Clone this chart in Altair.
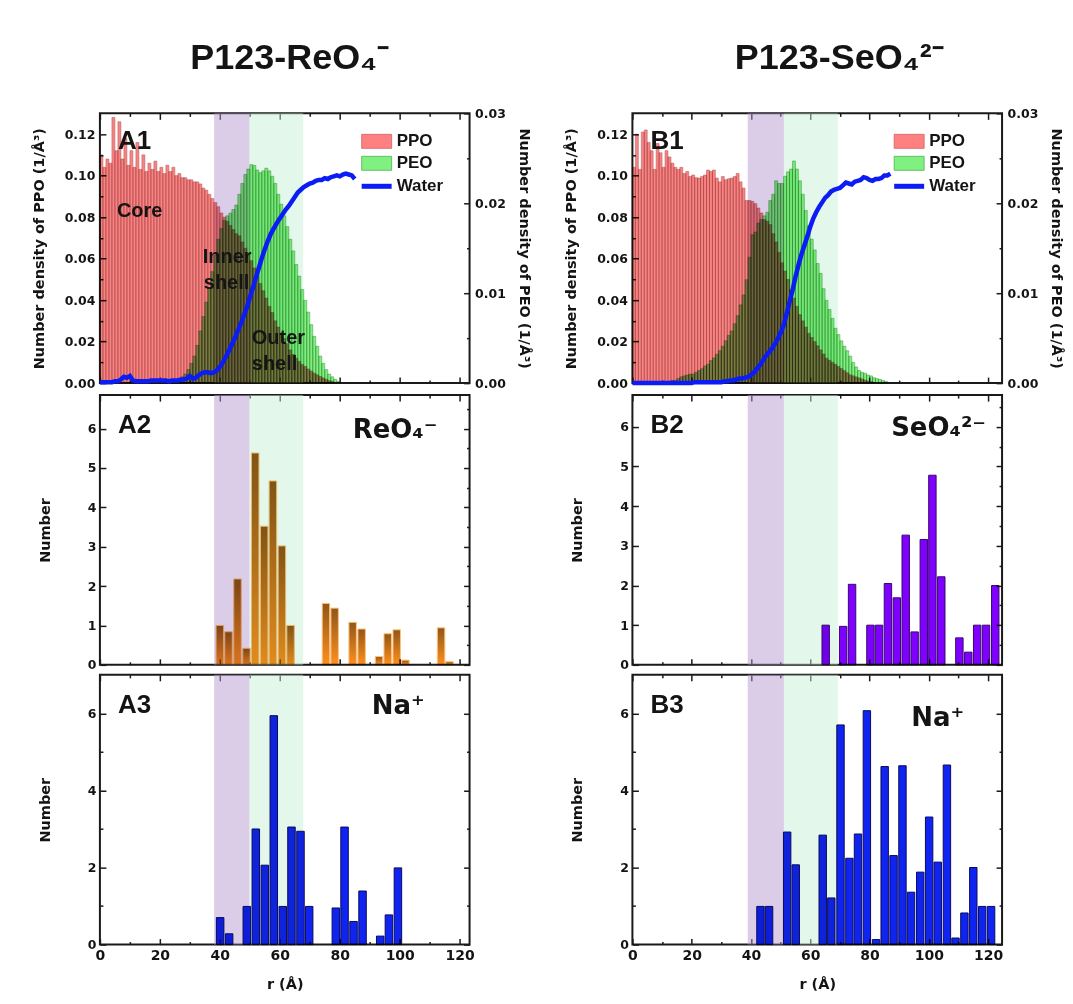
import altair as alt
import pandas as pd

ARIAL = "Liberation Sans, Arial, sans-serif"
WIDE = "DejaVu Sans, Verdana, sans-serif"
INK = "#141414"

# ------------------------------------------------------------------ data
# A1 (P123-ReO4-): number densities in 1 A bins (first bin starts at r = 0)
a1_ppo = [0.110, 0.104, 0.108, 0.106, 0.128, 0.112, 0.126, 0.108, 0.118, 0.105,
          0.112, 0.104, 0.116, 0.103, 0.110, 0.102, 0.106, 0.103, 0.107, 0.102,
          0.104, 0.101, 0.105, 0.102, 0.104, 0.100, 0.101, 0.099, 0.099, 0.098,
          0.098, 0.097, 0.097, 0.096, 0.094, 0.093, 0.091, 0.089, 0.087, 0.085,
          0.082, 0.080, 0.078, 0.076, 0.074, 0.072, 0.071, 0.068, 0.065, 0.062,
          0.059, 0.0555, 0.052, 0.048, 0.0445, 0.041, 0.037, 0.034, 0.030, 0.027,
          0.024, 0.0215, 0.019, 0.016, 0.0138, 0.012, 0.0105, 0.009, 0.008, 0.0068,
          0.0058, 0.0048, 0.004, 0.0032, 0.0025, 0.0018, 0.0012, 0.0008]
a1_peo_r0 = 24
a1_peo = [0.0002, 0.0003, 0.0005, 0.0007, 0.0010, 0.0015, 0.0022, 0.0030, 0.0042, 0.0058,
          0.0074, 0.0090, 0.0106, 0.0124, 0.0142, 0.0160, 0.0172, 0.0181, 0.0186, 0.0189,
          0.0193, 0.0198, 0.0210, 0.0222, 0.0232, 0.0238, 0.0243, 0.0242, 0.0237, 0.0234,
          0.0236, 0.0239, 0.0236, 0.0230, 0.0222, 0.0210, 0.0199, 0.0186, 0.0174, 0.0160,
          0.0147, 0.0132, 0.0119, 0.0104, 0.0092, 0.0079, 0.0065, 0.0052, 0.0041, 0.0030,
          0.0022, 0.0015, 0.0010, 0.0007, 0.0004, 0.0002]
a1_water = [0.0001, 0.0001, 0.0001, 0.0001, 0.0001, 0.0002, 0.0002, 0.0004, 0.0007, 0.0006,
            0.0008, 0.0003, 0.0002, 0.0002, 0.0002, 0.0002, 0.0002, 0.0003, 0.0003, 0.0003,
            0.0003, 0.0003, 0.0003, 0.0002, 0.0003, 0.0003, 0.0003, 0.0004, 0.0004, 0.0005,
            0.0008, 0.0005, 0.0006, 0.0009, 0.0011, 0.0012, 0.0012, 0.0011, 0.0012, 0.0014,
            0.0018, 0.0023, 0.0029, 0.0036, 0.0043, 0.0050, 0.0058, 0.0066, 0.0075, 0.0084,
            0.0095, 0.0106, 0.0117, 0.0128, 0.0139, 0.0149, 0.0158, 0.0166, 0.0172, 0.0178,
            0.0183, 0.0188, 0.0193, 0.0197, 0.0202, 0.0207, 0.0212, 0.0215, 0.0218, 0.0220,
            0.0222, 0.0223, 0.0225, 0.0226, 0.0226, 0.0228, 0.0227, 0.0229, 0.0230, 0.0231,
            0.0230, 0.0232, 0.0233, 0.0232, 0.0231, 0.0227]

# B1 (P123-SeO4 2-)
b1_ppo = [0.104, 0.120, 0.103, 0.121, 0.122, 0.116, 0.112, 0.103, 0.1155, 0.111,
          0.104, 0.112, 0.109, 0.106, 0.104, 0.103, 0.104, 0.101, 0.102, 0.0996,
          0.1003, 0.099, 0.0988, 0.0996, 0.1003, 0.1027, 0.102, 0.1027, 0.0988, 0.097,
          0.0996, 0.098, 0.0985, 0.0988, 0.0996, 0.101, 0.097, 0.094, 0.088, 0.088,
          0.0876, 0.0865, 0.0844, 0.082, 0.0788, 0.078, 0.0764, 0.072, 0.068, 0.063,
          0.058, 0.054, 0.050, 0.045, 0.041, 0.037, 0.033, 0.030, 0.027, 0.024,
          0.022, 0.020, 0.018, 0.016, 0.014, 0.012, 0.011, 0.010, 0.009, 0.008,
          0.007, 0.006, 0.005, 0.004, 0.0035, 0.003, 0.0025, 0.002, 0.0015, 0.001,
          0.0007, 0.0004]
b1_peo_r0 = 12
b1_peo = [0.0002, 0.0003, 0.0003, 0.0005, 0.0007, 0.0008, 0.0009, 0.0010, 0.0010, 0.0012,
          0.0014, 0.0016, 0.0019, 0.0021, 0.0025, 0.0028, 0.0032, 0.0036, 0.0041, 0.0047,
          0.0053, 0.0058, 0.0066, 0.0075, 0.0087, 0.0098, 0.0115, 0.0140, 0.0165, 0.0168,
          0.0178, 0.0182, 0.0186, 0.0190, 0.0203, 0.0210, 0.0225, 0.0222, 0.0222, 0.0230,
          0.0235, 0.0238, 0.0247, 0.0238, 0.0225, 0.0210, 0.0192, 0.0175, 0.0160, 0.0148,
          0.0133, 0.0122, 0.0105, 0.0092, 0.0082, 0.0072, 0.0061, 0.0054, 0.0047, 0.0041,
          0.0036, 0.0030, 0.0023, 0.0018, 0.0014, 0.0012, 0.0011, 0.0009, 0.0008, 0.0006,
          0.0005, 0.0004, 0.0003, 0.0002]
b1_water = [0.0, 0.0, 0.0, 0.0, 0.0, 0.0, 0.0, 0.0, 0.0, 0.0,
            0.0, 0.0, 0.0, 0.0, 0.0, 0.0, 0.0, 0.0, 0.0, 0.0,
            0.0, 0.0001, 0.0001, 0.0001, 0.0001, 0.0001, 0.0001, 0.0001, 0.0001, 0.0001,
            0.0001, 0.0002, 0.0002, 0.0003, 0.0003, 0.0004, 0.0005, 0.0005, 0.0006, 0.0007,
            0.0009, 0.0012, 0.0016, 0.0020, 0.0025, 0.0030, 0.0034, 0.0038, 0.0043, 0.0049,
            0.0056, 0.0064, 0.0077, 0.0090, 0.0103, 0.0118, 0.0131, 0.0143, 0.0153, 0.0163,
            0.0174, 0.0183, 0.0190, 0.0196, 0.0201, 0.0206, 0.0209, 0.0213, 0.0215, 0.0216,
            0.0217, 0.0220, 0.0223, 0.0222, 0.0221, 0.0224, 0.0225, 0.0226, 0.0229, 0.0228,
            0.0226, 0.0225, 0.0227, 0.0227, 0.0228, 0.0231, 0.0231, 0.0233]

# A2: ReO4- count per shell bin (bin centre r, number)
a2_r = [40.0, 42.9, 45.9, 48.9, 51.8, 54.8, 57.7, 60.7, 63.6, 75.4,
        78.3, 84.3, 87.3, 93.1, 96.0, 99.0, 101.9, 113.8, 116.6]
a2_n = [1.00, 0.84, 2.18, 0.42, 5.38, 3.52, 4.67, 3.02, 1.00, 1.56,
        1.44, 1.08, 0.91, 0.21, 0.79, 0.89, 0.12, 0.94, 0.08]
# A3: Na+ (ReO4- system)
a3_r = [40.1, 43.1, 49.0, 52.0, 55.0, 58.0, 61.0, 63.9, 66.9, 69.8,
        78.7, 81.6, 84.6, 87.6, 93.5, 96.4, 99.4]
a3_n = [0.70, 0.28, 0.99, 3.00, 2.06, 5.94, 0.99, 3.05, 2.94, 0.99,
        0.95, 3.05, 0.60, 1.39, 0.22, 0.77, 1.99]
# B2: SeO4 2-
b2_r = [65.2, 71.1, 74.1, 80.3, 83.2, 86.2, 89.2, 92.2, 95.2, 98.3,
        101.2, 104.2, 110.3, 113.3, 116.3, 119.3, 122.4]
b2_n = [1.00, 0.97, 2.03, 1.00, 1.00, 2.05, 1.69, 3.27, 0.83, 3.16,
        4.78, 2.22, 0.68, 0.32, 1.00, 1.00, 2.00]
# B3: Na+ (SeO4 2- system)
b3_r = [43.2, 46.1, 52.2, 55.1, 64.2, 67.1, 70.2, 73.2, 76.1, 79.1,
        82.2, 85.1, 88.1, 91.1, 94.0, 97.1, 100.1, 103.0, 106.1, 109.0,
        112.0, 115.0, 118.0, 121.0]
b3_n = [0.99, 0.99, 2.92, 2.07, 2.84, 1.21, 5.70, 2.24, 2.87, 6.07,
        0.13, 4.62, 2.31, 4.64, 1.36, 1.88, 3.31, 2.14, 4.66, 0.17,
        0.82, 2.00, 0.99, 0.99]

# inner / outer shell bands
band_kind = ["inner", "outer"]
a_band_lo = [38.1, 49.9]
a_band_hi = [49.9, 67.8]
b_band_lo = [38.9, 51.1]
b_band_hi = [51.1, 69.3]

tick_r = list(range(0, 121, 10))
ppo_ticks = [round(i * 0.01, 3) for i in range(13)]
peo_ticks = [round(i * 0.005, 4) for i in range(7)]
n2_ticks = [i * 0.5 for i in range(14)]
n3_ticks = list(range(0, 7))

# ------------------------------------------------------------------ styling
W, H = 370, 270
MAJOR, MINOR = -6, -3
BAR_W = 2.5


def tsize(test):
    return alt.ExprRef(expr=f"({test}) ? {MAJOR} : {MINOR}")


def x_axis(orient, labels=False, title=None):
    test = "datum.value % 20 === 0"
    kw = dict(orient=orient, values=tick_r, tickSize=tsize(test), domain=False,
              grid=False, labels=labels, title=title)
    if labels:
        kw.update(labelExpr=f"({test}) ? datum.label : ''", labelPadding=10,
                  labelFlush=False, labelOverlap=False, labelFontSize=14,
                  titlePadding=12)
    return alt.Axis(**kw)


def y_axis(orient, values, test, labels=False, title=None, fmt=None,
           label_pad=10, title_pad=12):
    kw = dict(orient=orient, values=values, tickSize=tsize(test), domain=False,
              grid=False, labels=labels, title=title)
    if labels:
        kw.update(labelExpr=f"({test}) ? datum.label : ''", labelPadding=label_pad,
                  labelOverlap=False, labelFlush=False)
        if fmt:
            kw["format"] = fmt
    if title:
        kw["titlePadding"] = title_pad
    return alt.Axis(**kw)


def text(t, x, y, size, font=ARIAL, align="left"):
    return alt.Chart(alt.Data(values=[{"t": t}])).mark_text(
        align=align, baseline="middle", font=font, fontSize=size,
        fontWeight="bold", color=INK
    ).encode(x=alt.value(x), y=alt.value(y), text="t:N")


def bands_layer(lo, hi, xs):
    df = pd.DataFrame({"kind": band_kind, "lo": lo, "hi": hi})
    return alt.Chart(df).mark_rect(opacity=0.5).encode(
        x=alt.X("lo:Q", scale=xs, axis=x_axis("top")),
        x2="hi:Q",
        color=alt.Color("kind:N", scale=alt.Scale(domain=band_kind,
                        range=["#b89bcf", "#c8efd6"]), legend=None),
    )


def legend_layers():
    sw = dict(x=alt.value(262), x2=alt.value(292))
    one = alt.Data(values=[{"k": 1}])
    return [
        alt.Chart(one).mark_rect(fill="#ff8080", stroke="#d06060", strokeWidth=0.8)
        .encode(y=alt.value(21), y2=alt.value(35), **sw),
        alt.Chart(one).mark_rect(fill="#80f080", stroke="#50b050", strokeWidth=0.8)
        .encode(y=alt.value(43), y2=alt.value(57), **sw),
        alt.Chart(one).mark_rule(color="#0b1cf5", strokeWidth=5)
        .encode(y=alt.value(73), **sw),
        text("PPO", 297, 28, 17), text("PEO", 297, 50, 17), text("Water", 297, 73, 17),
    ]


def density_panel(ppo, peo_r0, peo, water, lo, hi, xmax, tag, notes, head, head_x):
    xs = alt.Scale(domain=[0, xmax], nice=False, zero=False)
    ys_l = alt.Scale(domain=[0, 0.13], nice=False)
    ys_r = alt.Scale(domain=[0, 0.03], nice=False)
    ppo_df = pd.DataFrame({"r": list(range(len(ppo))), "v": ppo})
    peo_df = pd.DataFrame({"r": list(range(peo_r0, peo_r0 + len(peo))), "v": peo})
    wat_df = pd.DataFrame({"r": list(range(len(water))), "v": water})

    ppo_l = alt.Chart(ppo_df).transform_calculate(r2="datum.r + 1", zero="0").mark_rect(
        fill="#f78383", stroke="#b35858", strokeWidth=0.5, blend="multiply"
    ).encode(
        x=alt.X("r:Q", scale=xs, axis=x_axis("bottom")),
        x2="r2:Q",
        y=alt.Y("v:Q", scale=ys_l, axis=y_axis(
            "left", ppo_ticks, "round(datum.value*100) % 2 === 0", labels=True,
            title="Number density of PPO (1/Å³)", fmt=".2f", label_pad=11, title_pad=18)),
        y2="zero:Q",
    )
    peo_l = alt.Chart(peo_df).transform_calculate(r2="datum.r + 1", zero="0").mark_rect(
        fill="#80f080", stroke="#3f943f", strokeWidth=0.5, blend="multiply"
    ).encode(
        x=alt.X("r:Q", scale=xs, axis=None),
        x2="r2:Q",
        y=alt.Y("v:Q", scale=ys_r, axis=y_axis(
            "right", peo_ticks, "round(datum.value*1000) % 10 === 0", labels=True,
            title="Number density of PEO (1/Å³)", fmt=".2f", label_pad=11, title_pad=11)),
        y2="zero:Q",
    )
    wat_l = alt.Chart(wat_df).mark_line(color="#0b1cf5", strokeWidth=4.5).encode(
        x=alt.X("r:Q", scale=xs, axis=None),
        y=alt.Y("v:Q", scale=ys_r, axis=None),
    )
    layers = [bands_layer(lo, hi, xs), ppo_l, peo_l, wat_l, text(tag, 18, 28, 26)]
    layers += [text(*n) for n in notes]
    layers += legend_layers()
    layers += [text(head, head_x, -55, 36, align="center")]
    return alt.layer(*layers).resolve_scale(y="independent").resolve_axis(
        x="independent").properties(width=W, height=H)


def count_panel(r, n, lo, hi, xmax, ymax, yvals, ytest, fill, stroke, tag, ion,
                ion_xy, bottom=False):
    xs = alt.Scale(domain=[0, xmax], nice=False, zero=False)
    ys = alt.Scale(domain=[0, ymax], nice=False)
    df = pd.DataFrame({"r": r, "n": n})
    bars = alt.Chart(df).transform_calculate(
        lo=f"datum.r - {BAR_W / 2}", hi=f"datum.r + {BAR_W / 2}", zero="0"
    ).mark_rect(fill=fill, stroke=stroke, strokeWidth=1, blend="multiply").encode(
        x=alt.X("lo:Q", scale=xs, axis=x_axis("bottom", labels=bottom,
                title="r (Å)" if bottom else None)),
        x2="hi:Q",
        y=alt.Y("n:Q", scale=ys, axis=y_axis("left", yvals, ytest, labels=True,
                title="Number", fmt="d", title_pad=35)),
        y2="zero:Q",
    )
    mirror = alt.Chart(df).mark_point(opacity=0, size=1).encode(
        x=alt.X("r:Q", scale=xs, axis=None),
        y=alt.Y("n:Q", scale=ys, axis=y_axis("right", yvals, ytest)),
    )
    layers = [bands_layer(lo, hi, xs), bars, mirror, text(tag, 18, 30, 26),
              text(ion, ion_xy[0], ion_xy[1], 26, font=WIDE)]
    return alt.layer(*layers).resolve_axis(x="independent", y="independent").properties(
        width=W, height=H)


orange = {"gradient": "linear", "x1": 0, "y1": 0, "x2": 0, "y2": 1,
          "stops": [{"offset": 0, "color": "#8f5618"}, {"offset": 1, "color": "#ff8f1f"}]}

A_MAX, B_MAX = 123.3, 124.7

a1 = density_panel(a1_ppo, a1_peo_r0, a1_peo, a1_water, a_band_lo, a_band_hi, A_MAX, "A1",
                   [("Core", 17, 98, 20), ("Inner", 103, 144, 20), ("shell", 104, 170, 20),
                    ("Outer", 152, 225, 20), ("shell", 152, 251, 20)],
                   "P123-ReO₄⁻", 190)
a2 = count_panel(a2_r, a2_n, a_band_lo, a_band_hi, A_MAX, 6.85, n2_ticks,
                 "datum.value % 1 === 0", orange, "#ffc27a", "A2", "ReO₄⁻", (253, 35))
a3 = count_panel(a3_r, a3_n, a_band_lo, a_band_hi, A_MAX, 7.0, n3_ticks,
                 "datum.value % 2 === 0", "#1024f0", "#0a0a60", "A3", "Na⁺", (272, 31),
                 bottom=True)

b1 = density_panel(b1_ppo, b1_peo_r0, b1_peo, b1_water, b_band_lo, b_band_hi, B_MAX, "B1",
                   [], "P123-SeO₄²⁻", 207)
b2 = count_panel(b2_r, b2_n, b_band_lo, b_band_hi, B_MAX, 6.8, n2_ticks,
                 "datum.value % 1 === 0", "#7f00ff", "#36096a", "B2", "SeO₄²⁻", (259, 33))
b3 = count_panel(b3_r, b3_n, b_band_lo, b_band_hi, B_MAX, 7.0, n3_ticks,
                 "datum.value % 2 === 0", "#1024f0", "#0a0a60", "B3", "Na⁺", (279, 43),
                 bottom=True)

col_a = alt.vconcat(a1, a2, a3, spacing=0)
col_b = alt.vconcat(b1, b2, b3, spacing=0)

chart = alt.hconcat(col_a, col_b, spacing=30).properties(
    padding={"left": 22, "top": 31, "right": 0, "bottom": 0}
).configure_view(stroke="#1a1a1a", strokeWidth=2).configure_axis(
    labelFont=WIDE, labelFontSize=12.5, labelFontWeight="bold", labelColor=INK,
    titleFont=WIDE, titleFontSize=14.5, titleFontWeight="bold", titleColor=INK,
    tickColor="#1a1a1a", tickWidth=1.5, grid=False, domain=False,
)

chart.save("out.html", embed_options={"renderer": "svg", "actions": False})
